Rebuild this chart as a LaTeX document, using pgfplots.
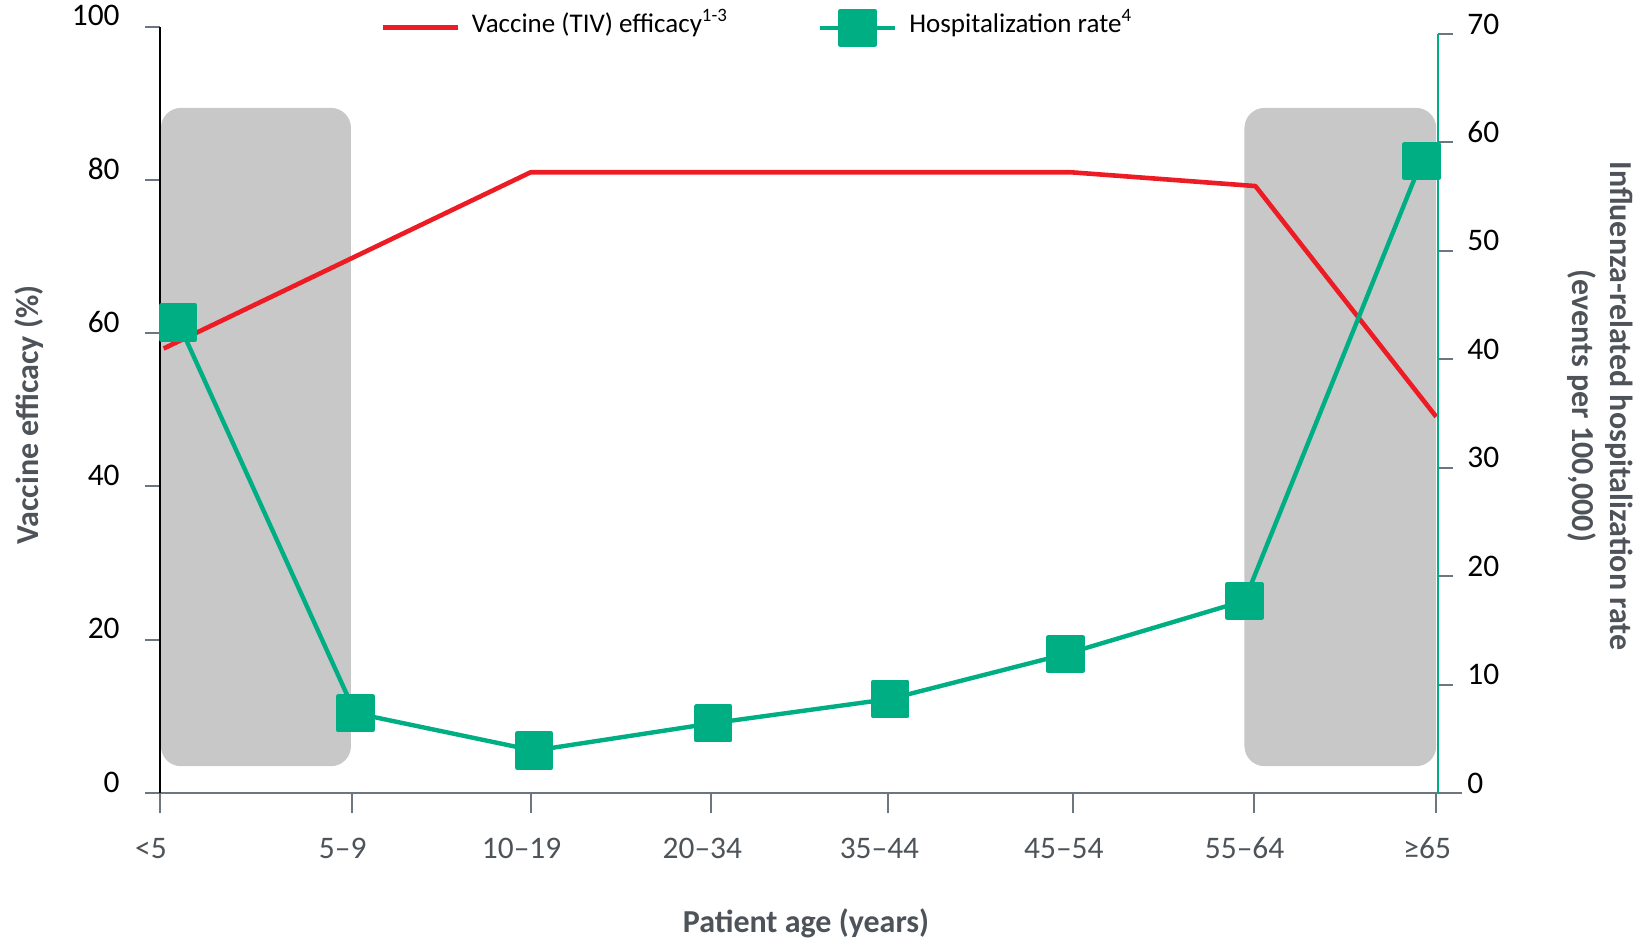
\documentclass[border=0pt]{standalone}
\usepackage{pgfplots}
\pgfplotsset{compat=1.18}
\usepackage{fontspec}
\setmainfont{Carlito}
\definecolor{vred}{RGB}{237,28,36}
\definecolor{hgreen}{RGB}{0,174,132}
\definecolor{boxgray}{RGB}{200,200,200}
\definecolor{axgray}{RGB}{108,118,128}
\definecolor{txgray}{RGB}{77,83,89}
\newcommand{\tickfont}{\fontsize{15.7}{18}\selectfont}
\newcommand{\labfont}{\fontsize{16}{19}\selectfont\bfseries}
\newcommand{\legfont}{\fontsize{13.5}{16}\selectfont}

\begin{document}
\begin{tikzpicture}
\useasboundingbox (0,0) rectangle (823pt,470pt);
\pgfplotsset{
  base/.style={
    scale only axis, width=639pt,
    xmin=0, xmax=7, ymin=0,
    at={(80pt,73.5pt)}, anchor=south west,
    /pgf/number format/assume math mode=true,
    tick align=outside,
    major tick length=7.5pt,
    tick style={axgray, line width=1pt},
    ticklabel style={font=\tickfont},
  },
}
% x axis and shaded age groups
\begin{axis}[base, height=383.15pt, ymax=100, hide y axis,
  axis x line*=bottom,
  x axis line style={axgray, line width=1pt, shorten <=-7.5pt, shorten >=-12pt},
  major tick length=10pt,
  xtick={0,1.05,2.03,3.02,3.99,5.0,5.99,6.99},
  xticklabels={<5, 5–9, 10–19, 20–34, 35–44, 45–54, 55–64, ≥65},
  xticklabel style={anchor=base, inner sep=0pt, yshift=-23pt, xshift=-4.5pt, text=txgray},
  xlabel={Patient age (years)},
  xlabel style={at={(axis description cs:0.5055,-0.1827)}, anchor=base, font=\labfont, text=txgray},
]
\fill[boxgray, rounded corners=10pt] (axis cs:0.005,3.5) rectangle (axis cs:1.046,89.4);
\fill[boxgray, rounded corners=10pt] (axis cs:5.94,3.5) rectangle (axis cs:6.99,89.4);
\end{axis}
% left axis: vaccine efficacy
\begin{axis}[base, height=383.15pt, ymax=100, hide x axis,
  axis y line*=left,
  y axis line style={black, line width=1pt},
  ytick={0,20,...,100},
  yticklabel style={anchor=east, inner sep=0pt, xshift=-12.5pt, yshift=5.5pt, text=black},
  ylabel={Vaccine efficacy (\%)},
  ylabel style={at={(axis description cs:-0.1025,0.4933)}, anchor=center, font=\labfont, text=txgray},
]
\addplot[vred, line width=2.3pt, line join=round] coordinates {
  (0.02,58.0) (2.03,81.0) (3,81.0) (4,81.0) (4.99,81.0) (6.0,79.2) (6.99,49.1)
};
\end{axis}
% right axis: hospitalization rate
\begin{axis}[base, height=379.5pt, ymax=70, hide x axis,
  axis y line*=right,
  y axis line style={hgreen, line width=1pt},
  ytick={0,10,...,70},
  yticklabel style={anchor=west, inner sep=0pt, xshift=7pt, yshift=5pt, text=black},
  ylabel={Influenza-related hospitalization rate\\(events per 100,000)},
  ylabel style={align=center, at={(axis description cs:1.1268,0.5099)}, anchor=center, rotate=180, font=\labfont, text=txgray},
  legend columns=2,
  legend image code/.code={\draw[mark repeat=2, mark phase=2, #1] plot coordinates {(0pt,-2.6pt) (18.75pt,-2.6pt) (37.5pt,-2.6pt)};},
  legend style={at={(axis description cs:0.1721,1.0089)}, anchor=west, draw=none, fill=none,
    inner sep=0pt, font=\legfont, nodes={inner sep=0pt},
    /tikz/every odd column/.append style={column sep=6pt},
    /tikz/every even column/.append style={column sep=45pt}},
  legend cell align=left,
]
\addlegendimage{vred, line width=2.3pt}
\addlegendentry{Vaccine (TIV) efficacy\textsuperscript{1-3}}
\addplot[hgreen, line width=2.2pt, line join=round, mark=square*, mark size=8.5pt, mark options={solid, fill=hgreen}] coordinates {
  (0.10,43.4) (1.07,7.36) (2.05,3.91) (3.03,6.44) (4.00,8.68) (4.96,12.81) (5.94,17.73) (6.91,58.26)
};
\addlegendentry{Hospitalization rate\textsuperscript{4}}
\end{axis}
\end{tikzpicture}
\end{document}
